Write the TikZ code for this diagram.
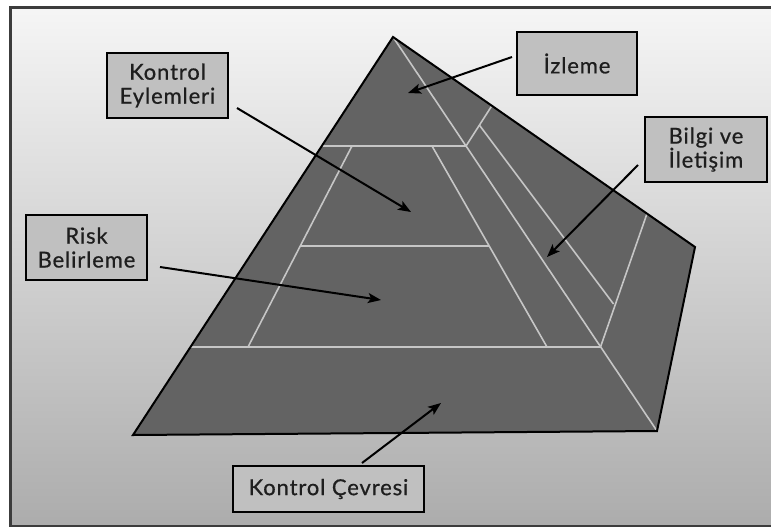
\documentclass[tikz,border=0pt]{standalone}
\usepackage{fontspec}
\setmainfont{Lato}
\newfontfamily\labelfont{Lato}[LetterSpace=4,FakeBold=0.6]
\usetikzlibrary{arrows.meta}

\definecolor{stone}{HTML}{636363}
\definecolor{seam}{HTML}{C6C6C6}
\definecolor{labelgray}{HTML}{C0C0C0}
\definecolor{framegray}{HTML}{3C3C3C}
\definecolor{floorgray}{HTML}{8E8E8E}
\definecolor{ink}{HTML}{1E1E1E}

\tikzset{
  labelbox/.style={draw=black, fill=labelgray, line width=2.2pt,
    inner sep=0pt, outer sep=0pt, align=center, text=ink,
    font=\labelfont\fontsize{22}{24}\selectfont},
  seamline/.style={draw=seam, line width=1.6pt},
  pointer/.style={draw=black, line width=2pt,
    -{Stealth[length=13pt,width=10pt,inset=3pt]}},
}

\begin{document}
\begin{tikzpicture}[x=1pt,y=-1pt]
  \useasboundingbox (0,0) rectangle (771,528);
  \fill[white] (0,0) rectangle (771,528);

  % background panel with a soft vertical fade
  \begin{scope}
    \clip (10.5,7.5) rectangle (772,526);
    \shade[top color=white, bottom color=floorgray] (0,-60) rectangle (771,740);
  \end{scope}
  \draw[framegray, line width=2.6pt] (10.5,7.5) rectangle (772,526);

  % pyramid body
  \coordinate (apex) at (393,37);
  \coordinate (rc) at (695,247);
  \coordinate (br) at (657,431);
  \coordinate (bl) at (133,435);
  \fill[stone] (apex) -- (rc) -- (br) -- (bl) -- cycle;

  % seams between the layers
  \draw[seamline] (apex) -- (br);
  \draw[seamline] (322,146) -- (466,146);
  \draw[seamline] (300,246) -- (489,246);
  \draw[seamline] (191,347) -- (600.5,347);
  \draw[seamline] (352,146) -- (248,347);
  \draw[seamline] (432,146) -- (547,347);
  \draw[seamline] (466,146) -- (492,105.5);
  \draw[seamline] (479.3,125) -- (613.5,304);
  \draw[seamline] (647,213.6) -- (600.5,347);

  \draw[black, line width=2pt, line join=miter] (apex) -- (rc) -- (br) -- (bl) -- cycle;

  % labels
  \node[labelbox, minimum width=120pt, minimum height=63pt] (izleme) at (577,63.5) {İzleme};
  \node[labelbox, minimum width=121pt, minimum height=65pt] (eylem) at (167.5,85.5) {Kontrol\\Eylemleri};
  \node[labelbox, minimum width=122pt, minimum height=65pt] (bilgi) at (706,149.5) {Bilgi ve\\İletişim};
  \node[labelbox, minimum width=121pt, minimum height=65pt] (risk) at (86.5,247.5) {Risk\\Belirleme};
  \node[labelbox, minimum width=191pt, minimum height=46pt] (cevre) at (328.5,489) {Kontrol Çevresi};

  % arrow targets on the pyramid
  \coordinate (izlemeT) at (408,93);
  \coordinate (eylemT) at (411,212);
  \coordinate (bilgiT) at (547,257);
  \coordinate (riskT) at (381,300);
  \coordinate (cevreT) at (441,403);

  \draw[pointer] ([shift={(-5,-6.5)}]izleme.west) -- (izlemeT);
  \draw[pointer] ([shift={(9,-10)}]eylem.south east) -- (eylemT);
  \draw[pointer] ([shift={(-7,15.5)}]bilgi.west) -- (bilgiT);
  \draw[pointer] ([shift={(13,19.5)}]risk.east) -- (riskT);
  \draw[pointer] ([shift={(33.5,-3)}]cevre.north) -- (cevreT);
\end{tikzpicture}
\end{document}
